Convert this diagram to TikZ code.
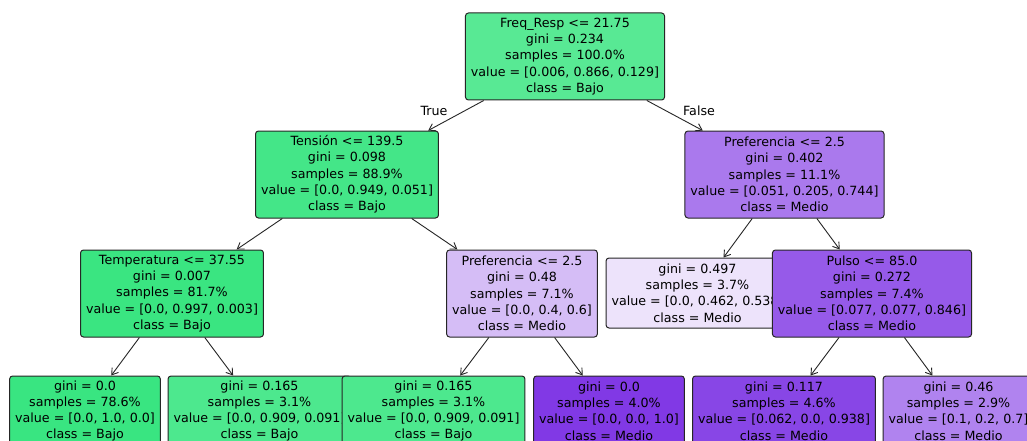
\documentclass[tikz,border=0pt]{standalone}
\usepackage{fontspec}
\setmainfont{DejaVu Sans}
\usetikzlibrary{arrows.meta}
\definecolor{cRoot}{RGB}{88,233,148}
\definecolor{cTen}{RGB}{68,230,136}
\definecolor{cTemp}{RGB}{58,229,129}
\definecolor{cPrefA}{RGB}{170,121,237}
\definecolor{cPrefB}{RGB}{213,189,246}
\definecolor{cGini}{RGB}{237,227,251}
\definecolor{cPulso}{RGB}{150,90,233}
\definecolor{cLeafA}{RGB}{57,229,129}
\definecolor{cLeafB}{RGB}{77,232,142}
\definecolor{cLeafD}{RGB}{129,57,229}
\definecolor{cLeafE}{RGB}{136,70,230}
\definecolor{cLeafF}{RGB}{176,131,239}
\tikzset{
  treebox/.style={draw=black!85, line width=1pt, rounded corners=3pt, inner xsep=5.5pt,
    minimum height=87pt, align=center, text=black,
    font=\fontsize{12.67pt}{16.3pt}\selectfont},
  leafbox/.style={treebox, minimum height=70pt},
  arr/.style={-{Straight Barb[length=6pt,width=8pt]}, line width=0.9pt, draw=black!85},
  edgelbl/.style={font=\fontsize{12.67pt}{16.3pt}\selectfont, text=black}
}
\begin{document}
\begin{tikzpicture}[x=1pt,y=-1pt]
\useasboundingbox (0,0) rectangle (1027,441);
\clip (0,0) rectangle (1027,441);
\fill[white] (0,0) rectangle (1027,441);
% nodes (preorder)
\node[treebox, fill=cRoot] (root) at (565,56.5) {Freq\_Resp <= 21.75\\gini = 0.234\\samples = 100.0\%\\value = [0.006, 0.866, 0.129]\\class = Bajo};
\node[treebox, fill=cTen] (ten) at (347,174.5) {Tensión <= 139.5\\gini = 0.098\\samples = 88.9\%\\value = [0.0, 0.949, 0.051]\\class = Bajo};
\node[treebox, fill=cTemp] (temp) at (172,293.5) {Temperatura <= 37.55\\gini = 0.007\\samples = 81.7\%\\value = [0.0, 0.997, 0.003]\\class = Bajo};
\node[leafbox, fill=cLeafA] (l1) at (85,411) {gini = 0.0\\samples = 78.6\%\\value = [0.0, 1.0, 0.0]\\class = Bajo};
\node[leafbox, fill=cLeafB] (l2) at (259.5,411) {gini = 0.165\\samples = 3.1\%\\value = [0.0, 0.909, 0.091]\\class = Bajo};
\node[treebox, fill=cPrefB] (prefb) at (522,293.5) {Preferencia <= 2.5\\gini = 0.48\\samples = 7.1\%\\value = [0.0, 0.4, 0.6]\\class = Medio};
\node[leafbox, fill=cLeafB] (l3) at (433.5,411) {gini = 0.165\\samples = 3.1\%\\value = [0.0, 0.909, 0.091]\\class = Bajo};
\node[leafbox, fill=cLeafD] (l4) at (609,411) {gini = 0.0\\samples = 4.0\%\\value = [0.0, 0.0, 1.0]\\class = Medio};
\node[treebox, fill=cPrefA] (prefa) at (784.5,174.5) {Preferencia <= 2.5\\gini = 0.402\\samples = 11.1\%\\value = [0.051, 0.205, 0.744]\\class = Medio};
\node[leafbox, fill=cGini] (g497) at (697.5,293) {gini = 0.497\\samples = 3.7\%\\value = [0.0, 0.462, 0.538]\\class = Medio};
\node[treebox, fill=cPulso] (pulso) at (872,293.5) {Pulso <= 85.0\\gini = 0.272\\samples = 7.4\%\\value = [0.077, 0.077, 0.846]\\class = Medio};
\node[leafbox, fill=cLeafE] (l5) at (784,411) {gini = 0.117\\samples = 4.6\%\\value = [0.062, 0.0, 0.938]\\class = Medio};
\node[leafbox, fill=cLeafF] (l6) at (958.5,411) {gini = 0.46\\samples = 2.9\%\\value = [0.1, 0.2, 0.7]\\class = Medio};
% connectors
\draw[arr] (root) -- (ten);
\draw[arr] (root) -- (prefa);
\draw[arr] (ten) -- (temp);
\draw[arr] (ten) -- (prefb);
\draw[arr] (temp) -- (l1);
\draw[arr] (temp) -- (l2);
\draw[arr] (prefb) -- (l3);
\draw[arr] (prefb) -- (l4);
\draw[arr] (prefa) -- (g497);
\draw[arr] (prefa) -- (pulso);
\draw[arr] (pulso) -- (l5);
\draw[arr] (pulso) -- (l6);
% edge labels
\node[edgelbl] (tlbl) at (434,111) {True};
\node[edgelbl] (flbl) at (699,111) {False};
\end{tikzpicture}
\end{document}
